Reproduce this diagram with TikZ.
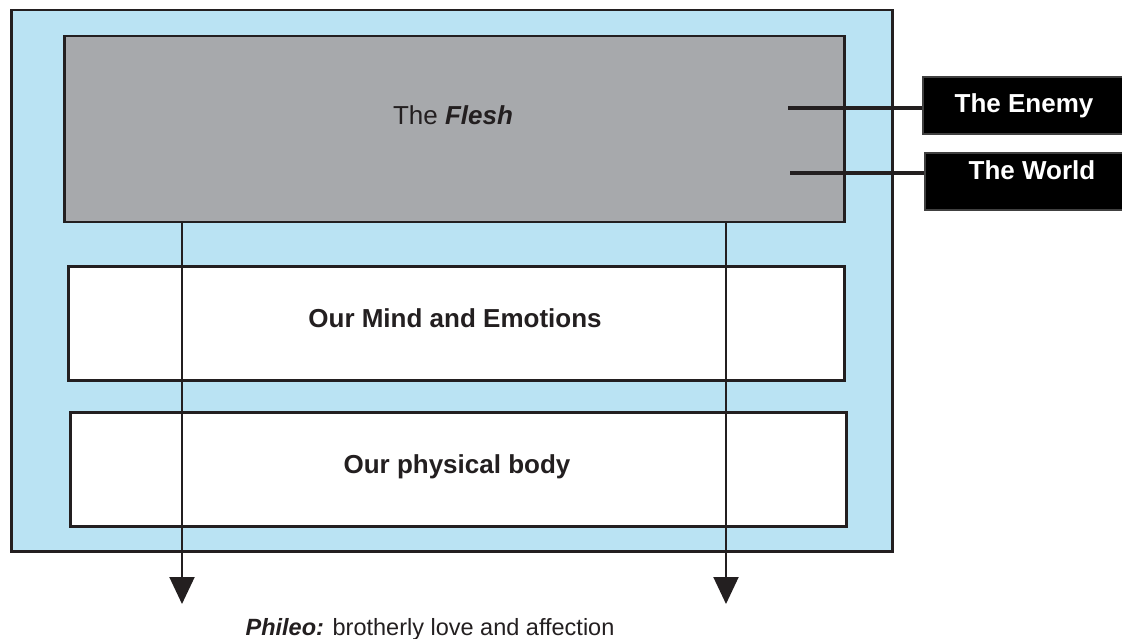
\documentclass[tikz,border=0pt]{standalone}
\usepackage{fontspec}
\setmainfont{Liberation Sans}
\usetikzlibrary{arrows.meta}

\definecolor{skyfill}{HTML}{BAE3F3}
\definecolor{fleshgrey}{HTML}{A7A9AC}
\definecolor{inkline}{HTML}{231F20}

\tikzset{
  panel/.style={draw=inkline,line width=2.5pt,inner sep=0pt,anchor=north west},
  tag/.style={fill=black,draw=black!75,line width=2pt,inner sep=0pt,anchor=north west,minimum height=57pt},
  boxtext/.style={font=\fontsize{26}{30}\selectfont,text=inkline,anchor=base,inner sep=0pt},
  tagtext/.style={font=\fontsize{26}{30}\selectfont\bfseries,text=white,anchor=base,inner sep=0pt},
  link/.style={draw=inkline,line width=4pt},
  drop/.style={draw=inkline,line width=2pt,-{Triangle[width=25pt,length=27pt]}},
}

\begin{document}
\begin{tikzpicture}[x=1pt,y=-1pt]
  \useasboundingbox (0,0) rectangle (1122,639);
  \fill[white] (0,0) rectangle (1122,639);

  % frame and the three layers
  \node[panel,fill=skyfill,minimum width=881pt,minimum height=541pt] (frame) at (10,9) {};
  \node[panel,fill=fleshgrey,minimum width=780pt,minimum height=186pt] (flesh) at (63,35) {};
  \node[panel,fill=white,minimum width=776pt,minimum height=114pt] (mind) at (67,265) {};
  \node[panel,fill=white,minimum width=776pt,minimum height=114pt] (body) at (69,411) {};

  \node[boxtext] (fleshtext) at (453,125) {The {\bfseries\itshape Flesh}};
  \node[boxtext] (mindtext) at (455,327) {\bfseries Our Mind and Emotions};
  \node[boxtext] (bodytext) at (457,473) {\bfseries Our physical body};

  % the two outside forces
  \node[tag,minimum width=204pt] (enemy) at (922,76) {};
  \node[tag,minimum width=216pt] (world) at (924,152) {};
  \node[tagtext] (enemytext) at (1024,113) {The Enemy};
  \node[tagtext] (worldtext) at (1032,180) {The World};

  \coordinate (enemyfrom) at (788,108);
  \coordinate (worldfrom) at (790,173);
  \draw[link] (enemyfrom) -- (enemyfrom -| enemy.west);
  \draw[link] (worldfrom) -- (worldfrom -| world.west);

  % arrows down
  \coordinate (leftdrop) at (182,604);
  \coordinate (rightdrop) at (726,604);
  \draw[drop] (flesh.south -| leftdrop) -- (leftdrop);
  \draw[drop] (flesh.south -| rightdrop) -- (rightdrop);

  \node[anchor=base,inner sep=0pt,text=inkline,font=\fontsize{23.5}{28}\selectfont] (phileo) at (430,635)
    {{\bfseries\itshape Phileo:} brotherly love and affection};
\end{tikzpicture}
\end{document}
